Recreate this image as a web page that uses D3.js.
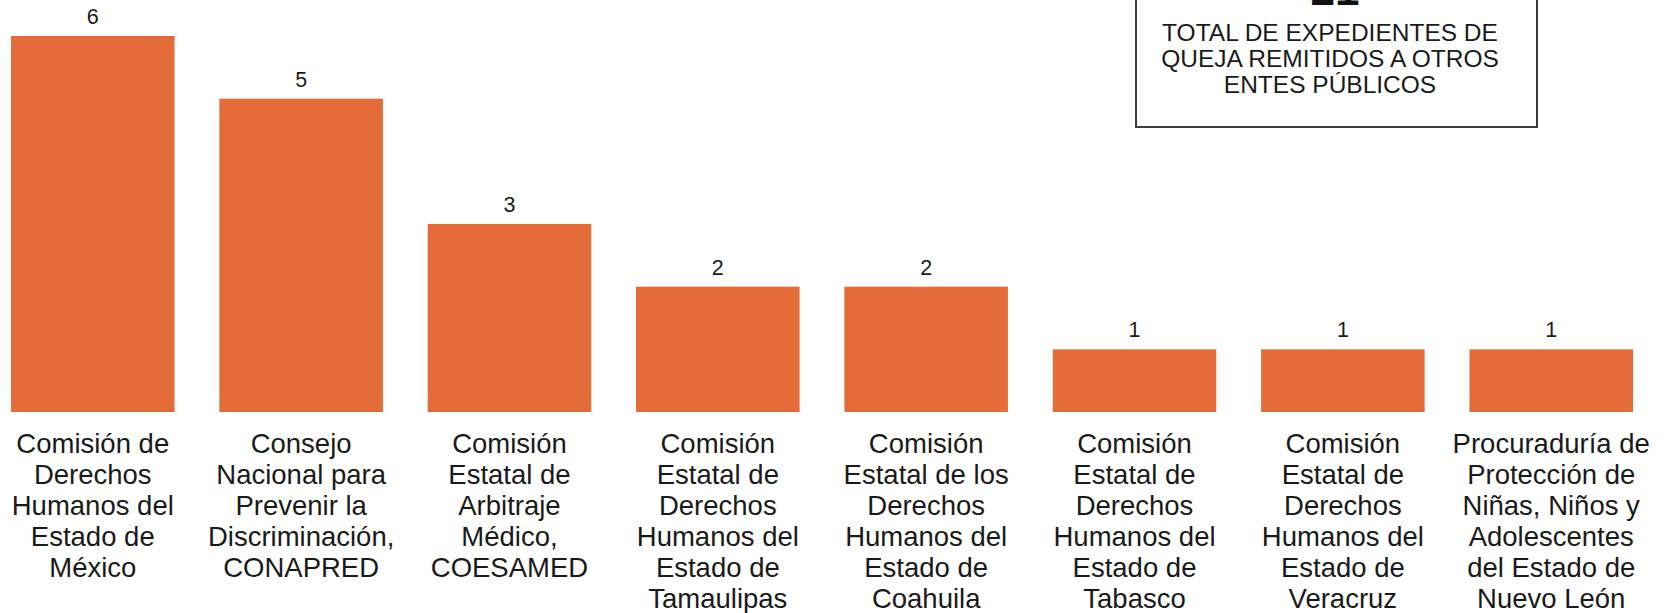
<!DOCTYPE html>
<html>
<head>
<meta charset="utf-8">
<script src="https://cdn.jsdelivr.net/npm/d3@7"></script>
<style>
  html, body { margin: 0; padding: 0; background: #fff; }
  svg { display: block; font-family: "Liberation Sans", Arial, sans-serif; }
</style>
</head>
<body>
<svg width="1665" height="613"></svg>
<script>
var svg = d3.select("svg"),
    width = +svg.attr("width"),
    height = +svg.attr("height");

// categories (one entry per bar, lines as in the original labels)
var categories = [
    ["Comisión de", "Derechos", "Humanos del", "Estado de", "México"],
    ["Consejo", "Nacional para", "Prevenir la", "Discriminación,", "CONAPRED"],
    ["Comisión", "Estatal de", "Arbitraje", "Médico,", "COESAMED"],
    ["Comisión", "Estatal de", "Derechos", "Humanos del", "Estado de", "Tamaulipas"],
    ["Comisión", "Estatal de los", "Derechos", "Humanos del", "Estado de", "Coahuila"],
    ["Comisión", "Estatal de", "Derechos", "Humanos del", "Estado de", "Tabasco"],
    ["Comisión", "Estatal de", "Derechos", "Humanos del", "Estado de", "Veracruz"],
    ["Procuraduría de", "Protección de", "Niñas, Niños y", "Adolescentes", "del Estado de", "Nuevo León"]
];
var values = [6, 5, 3, 2, 2, 1, 1, 1];

var totalValue = "21";
var totalLines = ["TOTAL DE EXPEDIENTES DE", "QUEJA REMITIDOS A OTROS", "ENTES PÚBLICOS"];

var barColor = "#e46c38";
var baseline = 412;

var x = d3.scaleBand()
    .domain(d3.range(values.length))
    .range([11, 1633])
    .paddingInner(0.215)
    .paddingOuter(0);

var y = d3.scaleLinear()
    .domain([0, 6])
    .range([baseline, 36]);

// bars
svg.append("g")
    .selectAll("rect")
    .data(values)
    .enter()
    .append("rect")
    .attr("x", function(d, i) { return x(i); })
    .attr("y", function(d) { return y(d); })
    .attr("width", x.bandwidth())
    .attr("height", function(d) { return baseline - y(d); })
    .attr("fill", barColor);

// value labels
svg.append("g")
    .selectAll("text")
    .data(values)
    .enter()
    .append("text")
    .attr("x", function(d, i) { return x(i) + x.bandwidth() / 2; })
    .attr("y", function(d) { return y(d) - 12; })
    .attr("text-anchor", "middle")
    .style("font-size", "21.5px")
    .attr("fill", "#1a1a1a")
    .text(function(d) { return d; });

// category labels
var cat = svg.append("g")
    .selectAll("text")
    .data(categories)
    .enter()
    .append("text")
    .attr("text-anchor", "middle")
    .style("font-size", "27.5px")
    .attr("fill", "#1a1a1a");

cat.selectAll("tspan")
    .data(function(d, i) { return d.map(function(l) { return {line: l, i: i}; }); })
    .enter()
    .append("tspan")
    .attr("x", function(d) { return x(d.i) + x.bandwidth() / 2; })
    .attr("y", function(d, j) { return 453 + j * 31; })
    .text(function(d) { return d.line; });

// total box
var box = svg.append("g");

box.append("rect")
    .attr("x", 1136)
    .attr("y", -20)
    .attr("width", 401)
    .attr("height", 147)
    .attr("fill", "#fff")
    .attr("stroke", "#3c3c3c")
    .attr("stroke-width", 2);

box.append("text")
    .attr("x", 1335)
    .attr("y", 5)
    .attr("text-anchor", "middle")
    .style("font-size", "44px")
    .style("font-weight", "bold")
    .attr("fill", "#111")
    .text(totalValue);

box.append("text")
    .attr("text-anchor", "middle")
    .style("font-size", "24.5px")
    .attr("fill", "#1a1a1a")
    .selectAll("tspan")
    .data(totalLines)
    .enter()
    .append("tspan")
    .attr("x", 1330)
    .attr("y", function(d, j) { return 41 + j * 26; })
    .text(function(d) { return d; });
</script>
</body>
</html>
